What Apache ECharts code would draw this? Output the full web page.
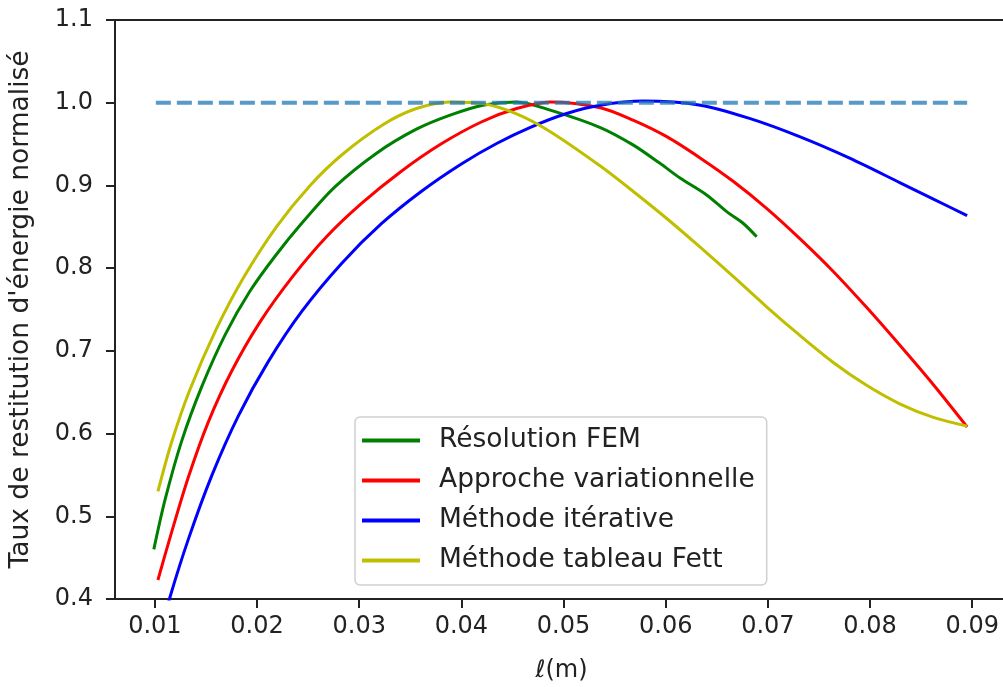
<!DOCTYPE html>
<html>
<head>
<meta charset="utf-8">
<script src="https://cdn.jsdelivr.net/npm/echarts@6/dist/echarts.min.js"></script>
<style>
html,body{margin:0;padding:0;background:#fff;}
#c{width:1003px;height:687px;}
</style>
</head>
<body>
<div id="c"></div>
<script>
// ---- data ----
const xTicks = [0.01, 0.02, 0.03, 0.04, 0.05, 0.06, 0.07, 0.08, 0.09];

const femL = [0.0099, 0.0110, 0.0126, 0.0146, 0.0169, 0.0193, 0.0218, 0.0245, 0.0276, 0.0317, 0.0356, 0.0389, 0.0421, 0.0454, 0.0487, 0.0536, 0.0568, 0.0594, 0.0614, 0.0640, 0.0660, 0.0676, 0.0689];
const femG = [0.460, 0.520, 0.590, 0.657, 0.720, 0.772, 0.815, 0.856, 0.898, 0.939, 0.968, 0.985, 0.997, 1.001, 0.991, 0.970, 0.949, 0.927, 0.909, 0.8885, 0.868, 0.854, 0.838];

const varL = [0.0103, 0.0116, 0.0133, 0.0152, 0.0175, 0.0203, 0.0235, 0.0268, 0.0302, 0.0340, 0.0380, 0.0420, 0.0454, 0.0487, 0.0536, 0.0568, 0.0601, 0.0634, 0.0666, 0.0699, 0.0731, 0.0764, 0.0797, 0.0829, 0.0862, 0.0895];
const varG = [0.423, 0.479, 0.548, 0.613, 0.675, 0.735, 0.790, 0.838, 0.878, 0.916, 0.950, 0.977, 0.993, 1.001, 0.994, 0.979, 0.959, 0.933, 0.905, 0.872, 0.836, 0.796, 0.752, 0.707, 0.659, 0.608];

const iterL = [0.0101, 0.0115, 0.0133, 0.0156, 0.0182, 0.0211, 0.0244, 0.0283, 0.0322, 0.0361, 0.0400, 0.0435, 0.0467, 0.0503, 0.0536, 0.0578, 0.0634, 0.0682, 0.0731, 0.0780, 0.0829, 0.0862, 0.0895];
const iterG = [0.339, 0.403, 0.473, 0.550, 0.622, 0.687, 0.748, 0.806, 0.854, 0.893, 0.926, 0.951, 0.970, 0.987, 0.997, 1.002, 0.997, 0.981, 0.959, 0.933, 0.9035, 0.8835, 0.8635];

const fettL = [0.0103, 0.0116, 0.0134, 0.0160, 0.0187, 0.0219, 0.0252, 0.0284, 0.0324, 0.0356, 0.0389, 0.0421, 0.0454, 0.0487, 0.0536, 0.0568, 0.0601, 0.0634, 0.0666, 0.0699, 0.0731, 0.0764, 0.0797, 0.0829, 0.0862, 0.0895];
const fettG = [0.530, 0.588, 0.652, 0.726, 0.789, 0.850, 0.900, 0.938, 0.974, 0.993, 1.001, 0.999, 0.9865, 0.965, 0.9235, 0.893, 0.860, 0.825, 0.790, 0.753, 0.719, 0.686, 0.658, 0.636, 0.6195, 0.609];

const refL = [0.0101, 0.0895];
const refG = [1.0, 1.0];

const names = ['Résolution FEM', 'Approche variationnelle', 'Méthode itérative', 'Méthode tableau Fett'];
const colors = ['#008000', '#ff0000', '#0000ff', '#bfbf00'];

// ---- chart ----
const zip = (a, b) => a.map((v, i) => [v, b[i]]);
const FONT = 'DejaVu Sans';
const chart = echarts.init(document.getElementById('c'), null, {renderer: 'canvas'});

const lineSeries = (name, xs, ys, color) => ({
  name: name,
  type: 'line',
  data: zip(xs, ys),
  symbol: 'none',
  smooth: 0.3,
  clip: true,
  lineStyle: {color: color, width: 3},
  itemStyle: {color: color},
  z: 2
});

chart.setOption({
  animation: false,
  backgroundColor: '#fff',
  grid: {
    left: 115, top: 20, right: -5, bottom: 88,
    outerBoundsMode: 'none',
    containLabel: false,
    show: true, borderColor: '#222', borderWidth: 2, backgroundColor: 'transparent'
  },
  legend: {
    data: names,
    orient: 'vertical',
    left: 355, top: 417,
    padding: [10, 12, 11, 7],
    itemGap: 13,
    itemWidth: 58,
    itemHeight: 4,
    icon: 'rect',
    backgroundColor: '#fff',
    borderColor: '#d0d0d0',
    borderWidth: 1.5,
    borderRadius: 5,
    textStyle: {fontFamily: FONT, fontSize: 26.5, color: '#222', lineHeight: 27, padding: [0, 0, 0, 14]}
  },
  xAxis: {
    type: 'value',
    min: 0.0061, max: 0.0935,
    name: 'ℓ(m)',
    nameLocation: 'middle',
    nameGap: 60,
    nameTextStyle: {fontFamily: FONT, fontSize: 24, color: '#222'},
    axisLine: {show: true, lineStyle: {color: '#222', width: 2}},
    axisTick: {show: true, customValues: xTicks, length: 9, lineStyle: {color: '#222', width: 2}},
    axisLabel: {
      customValues: xTicks, margin: 16,
      fontFamily: FONT, fontSize: 24, color: '#222',
      formatter: v => v.toFixed(2)
    },
    splitLine: {show: false}
  },
  yAxis: {
    type: 'value',
    min: 0.4, max: 1.1, interval: 0.1,
    name: "Taux de restitution d'énergie normalisé",
    nameLocation: 'middle',
    nameGap: 80,
    nameTextStyle: {fontFamily: FONT, fontSize: 26.5, color: '#222'},
    axisLine: {show: true, lineStyle: {color: '#222', width: 2}},
    axisTick: {show: true, length: 9, lineStyle: {color: '#222', width: 2}},
    axisLabel: {
      margin: 22, fontFamily: FONT, fontSize: 24, color: '#222',
      formatter: v => v.toFixed(1)
    },
    splitLine: {show: false}
  },
  series: [
    lineSeries(names[0], femL, femG, colors[0]),
    lineSeries(names[1], varL, varG, colors[1]),
    lineSeries(names[2], iterL, iterG, colors[2]),
    lineSeries(names[3], fettL, fettG, colors[3]),
    {
      name: 'ref',
      type: 'line',
      data: zip(refL, refG),
      symbol: 'none',
      lineStyle: {color: '#1f77b4', opacity: 0.75, width: 4, type: [15, 6]},
      z: 3
    }
  ]
});
</script>
</body>
</html>
